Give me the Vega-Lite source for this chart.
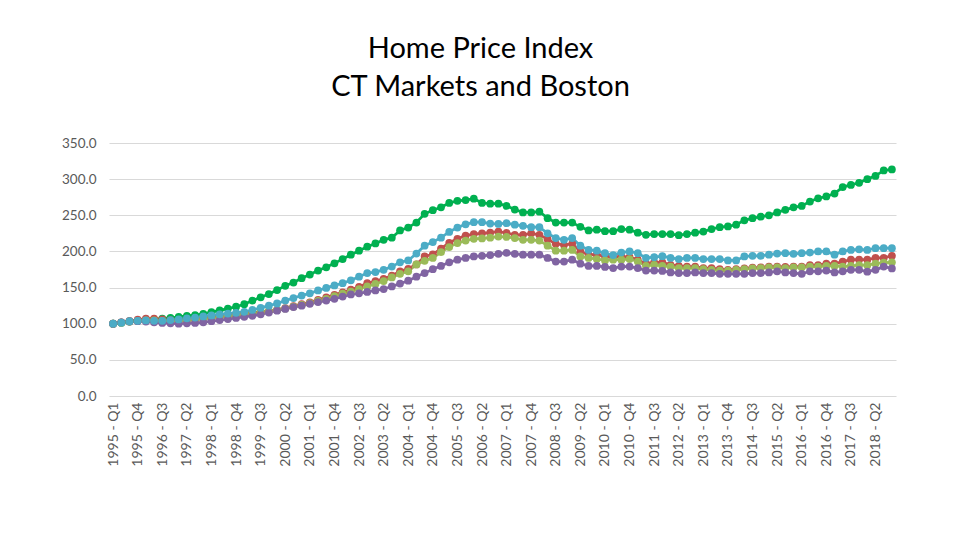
{
  "$schema": "https://vega.github.io/schema/vega-lite/v6.json",
  "width": 787,
  "height": 253,
  "autosize": {"type": "none"},
  "padding": {"left": 109, "top": 143, "right": 64, "bottom": 141},
  "background": "white",
  "config": {"view": {"stroke": null}, "font": "Lato"},
  "title": {
    "text": ["Home Price Index", "CT Markets and Boston"],
    "fontSize": 29,
    "fontWeight": "normal",
    "font": "Lato",
    "color": "#000000",
    "anchor": "middle",
    "dx": -22,
    "offset": 34,
    "lineHeight": 38
  },
  "data": {
    "values": [
      {"quarter": "1995 - Q1", "Boston": 100, "Bridgeport": 100, "Hartford": 100, "New Haven": 100, "Norwich": 100},
      {"quarter": "1995 - Q2", "Boston": 101.5, "Bridgeport": 101.5, "Hartford": 102, "New Haven": 101.5, "Norwich": 102},
      {"quarter": "1995 - Q3", "Boston": 103, "Bridgeport": 103.5, "Hartford": 104, "New Haven": 103, "Norwich": 103},
      {"quarter": "1995 - Q4", "Boston": 104, "Bridgeport": 104, "Hartford": 105.5, "New Haven": 104, "Norwich": 103.5},
      {"quarter": "1996 - Q1", "Boston": 104.5, "Bridgeport": 104.5, "Hartford": 107, "New Haven": 104.5, "Norwich": 103},
      {"quarter": "1996 - Q2", "Boston": 105.5, "Bridgeport": 104, "Hartford": 107, "New Haven": 104.5, "Norwich": 102},
      {"quarter": "1996 - Q3", "Boston": 107, "Bridgeport": 104, "Hartford": 106, "New Haven": 104, "Norwich": 101},
      {"quarter": "1996 - Q4", "Boston": 108, "Bridgeport": 105, "Hartford": 105, "New Haven": 104, "Norwich": 100.5},
      {"quarter": "1997 - Q1", "Boston": 109.5, "Bridgeport": 106, "Hartford": 105, "New Haven": 104, "Norwich": 100},
      {"quarter": "1997 - Q2", "Boston": 111, "Bridgeport": 107.5, "Hartford": 105.5, "New Haven": 104.5, "Norwich": 100.5},
      {"quarter": "1997 - Q3", "Boston": 112, "Bridgeport": 108.5, "Hartford": 106.5, "New Haven": 105.5, "Norwich": 101},
      {"quarter": "1997 - Q4", "Boston": 113.5, "Bridgeport": 110, "Hartford": 107.5, "New Haven": 106.5, "Norwich": 102},
      {"quarter": "1998 - Q1", "Boston": 116, "Bridgeport": 111.5, "Hartford": 109, "New Haven": 108, "Norwich": 103.5},
      {"quarter": "1998 - Q2", "Boston": 118.5, "Bridgeport": 113, "Hartford": 110, "New Haven": 109, "Norwich": 105},
      {"quarter": "1998 - Q3", "Boston": 121, "Bridgeport": 114, "Hartford": 111.5, "New Haven": 110.5, "Norwich": 106.5},
      {"quarter": "1998 - Q4", "Boston": 123.5, "Bridgeport": 115, "Hartford": 112.5, "New Haven": 111.5, "Norwich": 108},
      {"quarter": "1999 - Q1", "Boston": 127, "Bridgeport": 116.5, "Hartford": 114, "New Haven": 113, "Norwich": 109.5},
      {"quarter": "1999 - Q2", "Boston": 132, "Bridgeport": 119, "Hartford": 115, "New Haven": 114.5, "Norwich": 111},
      {"quarter": "1999 - Q3", "Boston": 136.5, "Bridgeport": 122, "Hartford": 116.5, "New Haven": 116, "Norwich": 113},
      {"quarter": "1999 - Q4", "Boston": 141, "Bridgeport": 125, "Hartford": 117.5, "New Haven": 117.5, "Norwich": 115.5},
      {"quarter": "2000 - Q1", "Boston": 146.5, "Bridgeport": 128, "Hartford": 119, "New Haven": 119, "Norwich": 118},
      {"quarter": "2000 - Q2", "Boston": 152.5, "Bridgeport": 132, "Hartford": 121.5, "New Haven": 121, "Norwich": 120.5},
      {"quarter": "2000 - Q3", "Boston": 157, "Bridgeport": 135.5, "Hartford": 124.5, "New Haven": 123.5, "Norwich": 123},
      {"quarter": "2000 - Q4", "Boston": 163, "Bridgeport": 139, "Hartford": 127, "New Haven": 126, "Norwich": 125},
      {"quarter": "2001 - Q1", "Boston": 168, "Bridgeport": 142, "Hartford": 129.5, "New Haven": 128.5, "Norwich": 127.5},
      {"quarter": "2001 - Q2", "Boston": 173.5, "Bridgeport": 146, "Hartford": 133, "New Haven": 131.5, "Norwich": 130},
      {"quarter": "2001 - Q3", "Boston": 178, "Bridgeport": 149.5, "Hartford": 136.5, "New Haven": 134.5, "Norwich": 132},
      {"quarter": "2001 - Q4", "Boston": 183.5, "Bridgeport": 153, "Hartford": 140, "New Haven": 138, "Norwich": 134.5},
      {"quarter": "2002 - Q1", "Boston": 189.5, "Bridgeport": 156, "Hartford": 143.5, "New Haven": 141.5, "Norwich": 137.5},
      {"quarter": "2002 - Q2", "Boston": 195.5, "Bridgeport": 160, "Hartford": 147, "New Haven": 144.5, "Norwich": 140.5},
      {"quarter": "2002 - Q3", "Boston": 201, "Bridgeport": 165, "Hartford": 151, "New Haven": 148, "Norwich": 142},
      {"quarter": "2002 - Q4", "Boston": 206.5, "Bridgeport": 170, "Hartford": 156, "New Haven": 151.5, "Norwich": 144},
      {"quarter": "2003 - Q1", "Boston": 211, "Bridgeport": 171.5, "Hartford": 159, "New Haven": 155, "Norwich": 146},
      {"quarter": "2003 - Q2", "Boston": 216, "Bridgeport": 174.5, "Hartford": 162, "New Haven": 159, "Norwich": 148},
      {"quarter": "2003 - Q3", "Boston": 219, "Bridgeport": 179, "Hartford": 166.5, "New Haven": 164, "Norwich": 151.5},
      {"quarter": "2003 - Q4", "Boston": 229, "Bridgeport": 185, "Hartford": 172.5, "New Haven": 169, "Norwich": 155.5},
      {"quarter": "2004 - Q1", "Boston": 233, "Bridgeport": 187.5, "Hartford": 176, "New Haven": 172.5, "Norwich": 159.5},
      {"quarter": "2004 - Q2", "Boston": 240, "Bridgeport": 197, "Hartford": 182, "New Haven": 182, "Norwich": 165},
      {"quarter": "2004 - Q3", "Boston": 252, "Bridgeport": 208, "Hartford": 193, "New Haven": 187, "Norwich": 170},
      {"quarter": "2004 - Q4", "Boston": 257, "Bridgeport": 213, "Hartford": 196, "New Haven": 191, "Norwich": 175.5},
      {"quarter": "2005 - Q1", "Boston": 261, "Bridgeport": 219, "Hartford": 204, "New Haven": 199, "Norwich": 180},
      {"quarter": "2005 - Q2", "Boston": 267, "Bridgeport": 227, "Hartford": 212, "New Haven": 206, "Norwich": 185},
      {"quarter": "2005 - Q3", "Boston": 270, "Bridgeport": 233, "Hartford": 217.5, "New Haven": 211.5, "Norwich": 188.5},
      {"quarter": "2005 - Q4", "Boston": 271, "Bridgeport": 237.5, "Hartford": 222, "New Haven": 215, "Norwich": 191},
      {"quarter": "2006 - Q1", "Boston": 273, "Bridgeport": 240.5, "Hartford": 224, "New Haven": 217.5, "Norwich": 193},
      {"quarter": "2006 - Q2", "Boston": 267, "Bridgeport": 240.5, "Hartford": 225, "New Haven": 218, "Norwich": 194},
      {"quarter": "2006 - Q3", "Boston": 266, "Bridgeport": 238.5, "Hartford": 226, "New Haven": 219, "Norwich": 195},
      {"quarter": "2006 - Q4", "Boston": 266, "Bridgeport": 238, "Hartford": 227.5, "New Haven": 220.5, "Norwich": 196.5},
      {"quarter": "2007 - Q1", "Boston": 263, "Bridgeport": 239, "Hartford": 225.5, "New Haven": 220, "Norwich": 198},
      {"quarter": "2007 - Q2", "Boston": 258, "Bridgeport": 237, "Hartford": 223, "New Haven": 218.5, "Norwich": 196.5},
      {"quarter": "2007 - Q3", "Boston": 254, "Bridgeport": 235.5, "Hartford": 223, "New Haven": 216, "Norwich": 195.5},
      {"quarter": "2007 - Q4", "Boston": 254, "Bridgeport": 233.5, "Hartford": 225, "New Haven": 216, "Norwich": 195.5},
      {"quarter": "2008 - Q1", "Boston": 255, "Bridgeport": 233.5, "Hartford": 223, "New Haven": 215, "Norwich": 195.5},
      {"quarter": "2008 - Q2", "Boston": 246, "Bridgeport": 225, "Hartford": 217, "New Haven": 208, "Norwich": 191},
      {"quarter": "2008 - Q3", "Boston": 240, "Bridgeport": 218.5, "Hartford": 210.5, "New Haven": 201, "Norwich": 186},
      {"quarter": "2008 - Q4", "Boston": 240, "Bridgeport": 216, "Hartford": 209, "New Haven": 201, "Norwich": 186},
      {"quarter": "2009 - Q1", "Boston": 240, "Bridgeport": 218.5, "Hartford": 210.5, "New Haven": 202, "Norwich": 188.5},
      {"quarter": "2009 - Q2", "Boston": 234, "Bridgeport": 208, "Hartford": 200, "New Haven": 193, "Norwich": 183},
      {"quarter": "2009 - Q3", "Boston": 229, "Bridgeport": 202, "Hartford": 195.5, "New Haven": 191, "Norwich": 180},
      {"quarter": "2009 - Q4", "Boston": 230, "Bridgeport": 201, "Hartford": 195.5, "New Haven": 189.5, "Norwich": 180},
      {"quarter": "2010 - Q1", "Boston": 228, "Bridgeport": 197.5, "Hartford": 193, "New Haven": 187.5, "Norwich": 178.5},
      {"quarter": "2010 - Q2", "Boston": 228, "Bridgeport": 195, "Hartford": 192, "New Haven": 188.5, "Norwich": 177},
      {"quarter": "2010 - Q3", "Boston": 231, "Bridgeport": 198.5, "Hartford": 193, "New Haven": 188.5, "Norwich": 179},
      {"quarter": "2010 - Q4", "Boston": 230, "Bridgeport": 200, "Hartford": 192, "New Haven": 189.5, "Norwich": 179},
      {"quarter": "2011 - Q1", "Boston": 226, "Bridgeport": 197.5, "Hartford": 188.5, "New Haven": 186, "Norwich": 177},
      {"quarter": "2011 - Q2", "Boston": 223, "Bridgeport": 191, "Hartford": 183, "New Haven": 180, "Norwich": 173.5},
      {"quarter": "2011 - Q3", "Boston": 224, "Bridgeport": 192, "Hartford": 185, "New Haven": 181.5, "Norwich": 173.5},
      {"quarter": "2011 - Q4", "Boston": 224, "Bridgeport": 193.5, "Hartford": 185, "New Haven": 180, "Norwich": 173},
      {"quarter": "2012 - Q1", "Boston": 224, "Bridgeport": 191, "Hartford": 181.5, "New Haven": 179, "Norwich": 171},
      {"quarter": "2012 - Q2", "Boston": 222.5, "Bridgeport": 189.5, "Hartford": 180, "New Haven": 177, "Norwich": 170},
      {"quarter": "2012 - Q3", "Boston": 224, "Bridgeport": 191, "Hartford": 179, "New Haven": 177, "Norwich": 170},
      {"quarter": "2012 - Q4", "Boston": 226, "Bridgeport": 191, "Hartford": 179, "New Haven": 177, "Norwich": 171},
      {"quarter": "2013 - Q1", "Boston": 227.5, "Bridgeport": 189.5, "Hartford": 177, "New Haven": 175.5, "Norwich": 170},
      {"quarter": "2013 - Q2", "Boston": 231, "Bridgeport": 189.5, "Hartford": 177, "New Haven": 174.5, "Norwich": 170},
      {"quarter": "2013 - Q3", "Boston": 233.5, "Bridgeport": 189.5, "Hartford": 175.5, "New Haven": 173.5, "Norwich": 169},
      {"quarter": "2013 - Q4", "Boston": 234.5, "Bridgeport": 187.5, "Hartford": 174.5, "New Haven": 173.5, "Norwich": 169},
      {"quarter": "2014 - Q1", "Boston": 237, "Bridgeport": 187.5, "Hartford": 175.5, "New Haven": 174.5, "Norwich": 169},
      {"quarter": "2014 - Q2", "Boston": 243, "Bridgeport": 193, "Hartford": 176.5, "New Haven": 175.5, "Norwich": 169},
      {"quarter": "2014 - Q3", "Boston": 246, "Bridgeport": 194, "Hartford": 177.5, "New Haven": 176.5, "Norwich": 170},
      {"quarter": "2014 - Q4", "Boston": 248, "Bridgeport": 194, "Hartford": 178, "New Haven": 177, "Norwich": 170},
      {"quarter": "2015 - Q1", "Boston": 250, "Bridgeport": 195.5, "Hartford": 179, "New Haven": 178, "Norwich": 171},
      {"quarter": "2015 - Q2", "Boston": 254, "Bridgeport": 197, "Hartford": 179, "New Haven": 178, "Norwich": 172.5},
      {"quarter": "2015 - Q3", "Boston": 257.5, "Bridgeport": 197.5, "Hartford": 178.5, "New Haven": 177, "Norwich": 171},
      {"quarter": "2015 - Q4", "Boston": 261, "Bridgeport": 196.5, "Hartford": 179, "New Haven": 178, "Norwich": 170},
      {"quarter": "2016 - Q1", "Boston": 263, "Bridgeport": 197.5, "Hartford": 179, "New Haven": 178, "Norwich": 169},
      {"quarter": "2016 - Q2", "Boston": 269, "Bridgeport": 198.5, "Hartford": 181, "New Haven": 179, "Norwich": 172.5},
      {"quarter": "2016 - Q3", "Boston": 273.5, "Bridgeport": 200, "Hartford": 181, "New Haven": 179, "Norwich": 172.5},
      {"quarter": "2016 - Q4", "Boston": 276, "Bridgeport": 200, "Hartford": 183, "New Haven": 180, "Norwich": 173.5},
      {"quarter": "2017 - Q1", "Boston": 280, "Bridgeport": 195.5, "Hartford": 183, "New Haven": 180, "Norwich": 171},
      {"quarter": "2017 - Q2", "Boston": 289, "Bridgeport": 200, "Hartford": 186, "New Haven": 179, "Norwich": 172.5},
      {"quarter": "2017 - Q3", "Boston": 292, "Bridgeport": 202, "Hartford": 188.5, "New Haven": 180, "Norwich": 174.5},
      {"quarter": "2017 - Q4", "Boston": 295, "Bridgeport": 203, "Hartford": 188.5, "New Haven": 181, "Norwich": 174.5},
      {"quarter": "2018 - Q1", "Boston": 300, "Bridgeport": 202, "Hartford": 188.5, "New Haven": 181, "Norwich": 172},
      {"quarter": "2018 - Q2", "Boston": 304.5, "Bridgeport": 204.5, "Hartford": 191, "New Haven": 183, "Norwich": 174.5},
      {"quarter": "2018 - Q3", "Boston": 312, "Bridgeport": 204.5, "Hartford": 191, "New Haven": 184.5, "Norwich": 179},
      {"quarter": "2018 - Q4", "Boston": 313.5, "Bridgeport": 204.5, "Hartford": 194, "New Haven": 185, "Norwich": 176.5}
    ]
  },
  "transform": [
    {"fold": ["Boston", "Hartford", "New Haven", "Norwich", "Bridgeport"], "as": ["series", "value"]}
  ],
  "encoding": {
    "x": {
      "field": "quarter",
      "type": "ordinal",
      "sort": null,
      "scale": {"type": "point", "padding": 0.5},
      "axis": {
        "title": null,
        "values": ["1995 - Q1", "1995 - Q4", "1996 - Q3", "1997 - Q2", "1998 - Q1", "1998 - Q4", "1999 - Q3", "2000 - Q2", "2001 - Q1", "2001 - Q4", "2002 - Q3", "2003 - Q2", "2004 - Q1", "2004 - Q4", "2005 - Q3", "2006 - Q2", "2007 - Q1", "2007 - Q4", "2008 - Q3", "2009 - Q2", "2010 - Q1", "2010 - Q4", "2011 - Q3", "2012 - Q2", "2013 - Q1", "2013 - Q4", "2014 - Q3", "2015 - Q2", "2016 - Q1", "2016 - Q4", "2017 - Q3", "2018 - Q2"],
        "labelAngle": -90,
        "labelFontSize": 14,
        "labelColor": "#595959",
        "labelPadding": 6,
        "ticks": false,
        "domain": false,
        "grid": false,
        "labelOverlap": false
      }
    },
    "y": {
      "field": "value",
      "type": "quantitative",
      "scale": {"domain": [0, 350], "nice": false},
      "axis": {
        "title": null,
        "values": [0, 50, 100, 150, 200, 250, 300, 350],
        "format": ".1f",
        "labelFontSize": 13.5,
        "labelColor": "#595959",
        "labelPadding": 13,
        "ticks": false,
        "domain": false,
        "gridColor": "#D9D9D9",
        "gridWidth": 1
      }
    },
    "color": {
      "field": "series",
      "type": "nominal",
      "scale": {
        "domain": ["Boston", "Hartford", "New Haven", "Norwich", "Bridgeport"],
        "range": ["#00B050", "#C0504D", "#9BBB59", "#8064A2", "#4BACC6"]
      },
      "legend": null
    }
  },
  "layer": [
    {"mark": {"type": "line", "strokeWidth": 2.75}},
    {"mark": {"type": "point", "filled": true, "opacity": 1, "size": 60}}
  ]
}
